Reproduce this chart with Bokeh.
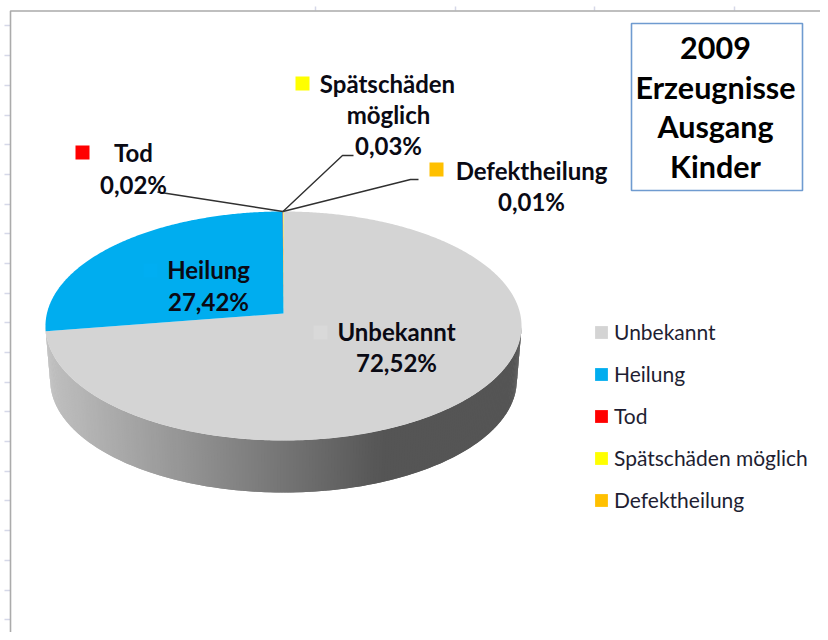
import numpy as np
from bokeh.plotting import figure
from bokeh.models import Range1d, Legend, LegendItem
from bokeh.core.properties import value
from bokeh.embed import file_html
from bokeh.resources import INLINE

categories = ["Unbekannt", "Heilung", "Tod", "Spätschäden möglich", "Defektheilung"]
shares = [72.52, 27.42, 0.02, 0.03, 0.01]
colors = ["#D4D4D4", "#00ADEF", "#FF0000", "#FFFF00", "#FFC000"]

title_lines = ["2009", "Erzeugnisse", "Ausgang", "Kinder"]
title_y = [47, 86, 125, 165]

label_texts = ["Unbekannt", "72,52%", "Heilung", "27,42%", "Tod", "0,02%",
               "Spätschäden", "möglich", "0,03%", "Defektheilung", "0,01%"]
label_x = [396, 396, 208, 208, 133, 133, 387, 388, 388, 531, 531]
label_y = [331, 362, 269, 301, 152, 184, 83, 114, 145, 170, 201]

key_colors = ["#D9D9D9", "#00AEF2", "#FF0000", "#FFFF00", "#FFC000"]
key_x = [320, 150, 82, 302, 436]
key_y = [332, 270, 152, 83, 169]

tick_y = [25, 55, 85, 115, 144, 174, 204, 233, 263, 293, 322, 352, 382, 411, 441, 471, 500, 530, 560, 590, 619]
tick_x = [315, 455, 594, 734]

# pie geometry, in the pixel space of the ranges below
CX, RX, Y_MID, B, C = 283, 236.6, 313, -78.97, 0.1092
DEPTH, SHRINK, ELL_MID = 54.3, 0.98, 325.5


def top(theta):
    u, v = np.sin(theta), np.cos(theta)
    d = 1 + C * v
    return CX + RX * u / d, (Y_MID + B * v) / d


def bottom(theta):
    x, y = top(theta)
    return CX + (x - CX) * SHRINK, ELL_MID + (y - ELL_MID) * SHRINK + DEPTH


p = figure(width=820, height=632, output_backend="svg", toolbar_location=None,
           x_range=Range1d(0, 820), y_range=Range1d(632, 0), min_border=0)
p.axis.visible = False
p.grid.visible = False
p.outline_line_color = None
p.background_fill_color = "white"

# sheet frame and ticks
p.segment(x0=[4] * len(tick_y), x1=[10] * len(tick_y), y0=tick_y, y1=tick_y, line_color="#D5D8E8", line_width=1.5)
p.segment(x0=tick_x, x1=tick_x, y0=[6] * len(tick_x), y1=[10] * len(tick_x), line_color="#D5D8E8", line_width=1.5)
p.line([10, 10, 820], [632, 10.5, 10.5], line_color="#ABABAB", line_width=1.6)

# pie wall, a gradient of thin strips that overlap their neighbour
ts = np.radians(np.linspace(96.3, 263.7, 241))
xs, ys, cs = [], [], []
for a, m, b in zip(ts[:-2], ts[1:-1], ts[2:]):
    xa, ya = top(a)
    xb, yb = top(b)
    xc, yc = bottom(b)
    xd, yd = bottom(a)
    mid = top(m)[0]
    f = min(max((mid - 46) / (385 - 46), 0), 1)
    g = int(round(0xC0 + (0x55 - 0xC0) * f))
    xs.append([xa, xb, xc, xd])
    ys.append([ya, yb, yc, yd])
    cs.append(f"#{g:02x}{g:02x}{g:02x}")
xs, ys, cs = xs[::-1], ys[::-1], cs[::-1]
p.patches(xs, ys, fill_color=cs, line_color=None)

# pie top, clockwise from twelve o'clock
cum = np.cumsum([0] + shares) / sum(shares) * 2 * np.pi
rends = []
for i in range(len(shares)):
    n = max(int((cum[i + 1] - cum[i]) * 120), 2)
    th = np.linspace(cum[i], cum[i + 1], n)
    x, y = top(th)
    r = p.patch(np.r_[CX, x], np.r_[Y_MID, y], fill_color=colors[i], line_color=None)
    rends.append(r)

# leader lines from the small slices
ax, ay = top(cum[3])
line_x = [[ax, 157], [ax, 342, 353], [ax, 410, 418]]
line_y = [[ay, 191.5], [ay, 155, 155], [ay, 179, 179]]
p.multi_line(line_x, line_y, line_color="#303030", line_width=1.4)

# data labels
p.rect(x=key_x, y=key_y, width=14, height=14, fill_color=key_colors, line_color=None)
p.text(x=label_x, y=label_y, text=label_texts, text_font=value("Lato"), text_font_style="bold",
       text_font_size="24px", text_align="center", text_baseline="middle", text_color="#0A0A14")

# title box
p.quad(left=[631], right=[802], top=[23], bottom=[190], fill_color="white", line_color="#6F9BD0", line_width=1.6)
p.text(x=[715] * 4, y=title_y, text=title_lines, text_font=value("Lato"), text_font_style="bold",
       text_font_size="30.5px", text_align="center", text_baseline="middle", text_color="black")

# legend
legend = Legend(items=[LegendItem(label=c, renderers=[r]) for c, r in zip(categories, rends)],
                location=(593, 120), orientation="vertical", background_fill_alpha=0,
                border_line_color=None, padding=0, margin=0, spacing=17,
                glyph_width=16, glyph_height=16, label_height=16, label_standoff=5,
                label_text_font="Lato", label_text_font_size="21px", label_text_color="#1E1E32")
p.add_layout(legend, "center")

open("out.html", "w").write(file_html(p, INLINE))
